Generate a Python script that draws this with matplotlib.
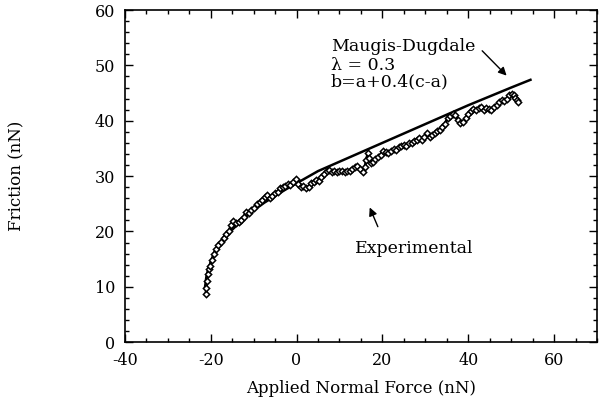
import matplotlib
matplotlib.use("Agg")
import matplotlib.pyplot as plt
from matplotlib.ticker import MultipleLocator

exp_x = [-21.1, -21.0, -20.9, -20.7, -20.5, -20.2, -19.8, -19.3, -18.8, -18.2, -17.6, -17.0,
         -16.4, -15.8, -15.2, -14.7, -14.1, -13.5, -12.9, -12.3, -11.7, -11.1, -10.5, -9.8,
         -9.2, -8.6, -8.0, -7.4, -6.8, -6.2, -5.6, -5.0, -4.4, -3.8, -3.2, -2.6, -2.0,
         -1.4, -0.8, -0.2, 0.4, 1.0, 1.6, 2.2, 2.8, 3.4, 4.0, 4.6, 5.2, 5.8, 6.4, 7.0,
         7.6, 8.2, 8.8, 9.4, 10.0, 10.6, 11.2, 11.8, 12.4, 13.0, 13.6, 14.2, 14.8, 15.4,
         15.9, 16.3, 16.6, 16.9, 17.3, 17.8, 18.4, 19.0, 19.6, 20.2, 20.8, 21.4, 22.0,
         22.6, 23.2, 23.8, 24.4, 25.0, 25.6, 26.2, 26.8, 27.4, 28.0, 28.6, 29.2, 29.8,
         30.4, 31.0, 31.6, 32.2, 32.8, 33.4, 34.0, 34.6, 35.2, 35.8, 36.4, 37.0, 37.6,
         38.2, 38.8, 39.4, 40.0, 40.6, 41.2, 41.8, 42.4, 43.0, 43.6, 44.2, 44.8, 45.4,
         46.0, 46.6, 47.2, 47.8, 48.4, 49.0, 49.6, 50.1, 50.6, 51.0, 51.4, 51.7]
exp_y = [8.7, 9.8, 11.0, 12.3, 13.2, 13.8, 14.8, 15.9, 16.8, 17.5, 18.1, 18.9,
         19.5, 20.0, 21.2, 21.8, 21.5, 21.7, 22.0, 22.6, 23.5, 23.4, 23.8, 24.3,
         24.9, 25.3, 25.7, 26.2, 26.6, 26.1, 26.4, 26.9, 27.2, 27.8, 28.0, 28.3, 28.5,
         28.4, 28.9, 29.4, 28.5, 28.1, 28.3, 27.8, 28.0, 28.7, 29.0, 29.3, 29.1, 29.8,
         30.3, 31.0, 31.1, 30.8, 31.0, 30.7, 30.9, 31.0, 30.8, 31.0, 30.9, 31.3, 31.6,
         31.8, 31.3, 30.8, 31.6, 33.0, 34.1, 33.3, 32.3, 32.6, 33.1, 33.4, 33.9, 34.6,
         34.4, 34.1, 34.6, 34.9, 34.7, 35.2, 35.5, 35.6, 35.4, 35.9, 36.0, 36.4, 36.6,
         36.9, 36.6, 37.1, 37.8, 37.0, 37.4, 37.8, 38.2, 38.4, 38.8, 39.5, 40.5, 40.8,
         41.3, 41.1, 40.2, 39.6, 39.8, 40.5, 41.3, 41.8, 42.2, 42.0, 42.3, 42.4, 42.0,
         42.3, 42.1, 41.9, 42.4, 42.8, 43.4, 43.8, 43.5, 44.0, 44.6, 44.9, 44.6, 44.2,
         43.8, 43.4]

# Maugis-Dugdale theory curve
md_x = [-21.3, -21.0, -20.5, -20.0, -19.0, -18.0, -17.0, -15.0, -12.5, -10.0, -7.5, -5.0,
        -2.5, 0.0, 5.0, 10.0, 15.0, 20.0, 25.0, 30.0, 35.0, 40.0, 45.0, 50.0, 54.5]
md_y = [10.0, 11.8, 13.3, 14.4, 16.0, 17.3, 18.5, 20.3, 22.2, 23.8, 25.2, 26.4,
        27.6, 28.7, 30.9, 32.6, 34.3, 36.0, 37.7, 39.4, 41.1, 42.8, 44.4, 46.0, 47.4]

plt.rcParams['font.family'] = ['DejaVu Serif']

fig = plt.figure(figsize=(6.0, 4.03), dpi=100)
ax = fig.add_axes([0.208, 0.151, 0.787, 0.824])

ax.plot(md_x, md_y, color='black', lw=1.8, zorder=3)
ax.plot(exp_x, exp_y, color='black', lw=2.0, marker='D', markersize=3.2,
        markerfacecolor='white', markeredgecolor='black', markeredgewidth=1.1, zorder=4)

ax.set_xlim(-40, 70)
ax.set_ylim(0, 60)
ax.xaxis.set_major_locator(MultipleLocator(20))
ax.xaxis.set_minor_locator(MultipleLocator(5))
ax.yaxis.set_major_locator(MultipleLocator(10))
ax.yaxis.set_minor_locator(MultipleLocator(2))
ax.set_xticks([-40, -20, 0, 20, 40, 60])
ax.set_xticklabels(['-40', '-20', '0', '20', '40', '60'])
ax.tick_params(which='both', direction='in', top=True, right=True, labelsize=11.5,
               width=1.0)
ax.tick_params(axis='x', pad=7)
ax.tick_params(axis='y', pad=7)
ax.tick_params(which='major', length=6)
ax.tick_params(which='minor', length=3)
for s in ax.spines.values():
    s.set_linewidth(1.2)

ax.set_xlabel('Applied Normal Force (nN)', fontsize=12, labelpad=8)
ax.set_ylabel('Friction (nN)', fontsize=12, labelpad=50)

ax.text(8.0, 53.4, 'Maugis-Dugdale', fontsize=12.5, va='center', ha='left')
ax.text(8.0, 50.0, 'λ = 0.3', fontsize=12.5, va='center', ha='left')
ax.text(8.0, 47.0, 'b=a+0.4(c-a)', fontsize=12.5, va='center', ha='left')
ax.annotate('', xy=(49.4, 47.8), xytext=(42.8, 53.0),
            arrowprops=dict(arrowstyle='-|>', color='black', lw=1.0,
                            mutation_scale=12))
ax.text(13.6, 17.0, 'Experimental', fontsize=12.5, va='center', ha='left')
ax.annotate('', xy=(16.8, 24.8), xytext=(19.2, 20.4),
            arrowprops=dict(arrowstyle='-|>', color='black', lw=1.0,
                            mutation_scale=12))

fig.savefig('out.png', dpi=100)
